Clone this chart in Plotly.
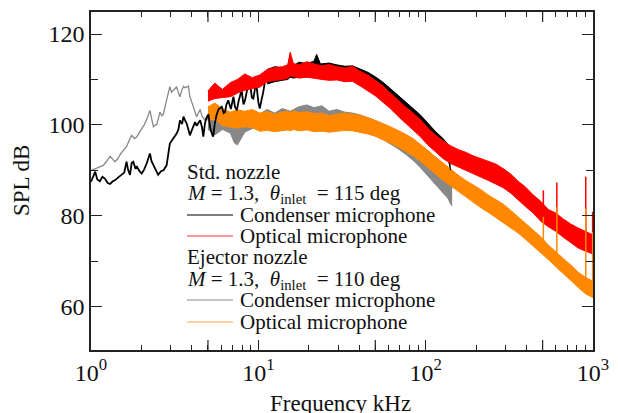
import plotly.graph_objects as go

# ---------------- data ----------------
# Thin low-frequency parts of the condenser-microphone spectra
black_line_f = [1.0, 1.03, 1.06, 1.09, 1.13, 1.17, 1.21, 1.26, 1.30, 1.35, 1.39, 1.45, 1.53, 1.58,
                1.63, 1.67, 1.71, 1.75, 1.79, 1.84, 1.88, 1.95, 2.01, 2.08, 2.15, 2.25, 2.30, 2.36,
                2.45, 2.52, 2.62, 2.71, 2.83, 2.90, 2.96, 3.10, 3.25, 3.33, 3.40, 3.50, 3.57, 3.65,
                3.73, 3.82, 3.90, 4.00, 4.09, 4.19, 4.28, 4.38, 4.49, 4.60, 4.69, 4.80, 4.90, 5.03,
                5.15, 5.27, 5.37, 5.50, 5.64, 5.80, 6.05, 6.20, 6.32, 6.45, 6.61, 6.85, 7.10, 7.25,
                7.44, 7.65, 7.95, 8.15, 8.33, 8.60, 8.93, 9.15, 9.34, 9.55, 9.77, 10.0, 10.2, 10.45,
                10.7, 11.0, 11.3]
black_line_v = [87.5, 88.5, 89.7, 88.0, 87.6, 88.6, 88.2, 87.2, 87.0, 87.6, 87.8, 88.4, 89.2, 89.5,
                91.9, 90.0, 89.0, 91.6, 91.9, 90.5, 90.8, 89.8, 89.3, 90.2, 91.5, 93.7, 92.0, 91.1,
                90.0, 89.0, 89.8, 90.0, 91.1, 93.5, 95.9, 97.0, 98.1, 99.0, 101.0, 100.2, 101.8, 101.0,
                100.3, 99.0, 97.7, 98.8, 99.6, 100.6, 99.8, 100.4, 101.0, 99.6, 97.4, 100.4, 101.5, 102.3,
                99.5, 98.1, 97.4, 100.5, 102.3, 103.5, 104.0, 102.6, 102.8, 104.5, 105.4, 103.5, 106.2, 104.0,
                103.2, 105.5, 107.6, 104.5, 105.4, 108.0, 109.1, 106.0, 105.8, 108.0, 108.4, 105.0, 103.6, 105.5,
                107.2, 110.0, 110.5]

gray_line_f = [1.0, 1.05, 1.10, 1.185, 1.24, 1.30, 1.35, 1.39, 1.45, 1.50, 1.56, 1.60, 1.63, 1.70,
               1.75, 1.82, 1.88, 1.95, 2.01, 2.08, 2.15, 2.20, 2.25, 2.30, 2.36, 2.41, 2.47, 2.53,
               2.58, 2.65, 2.71, 2.77, 2.83, 2.90, 2.96, 3.03, 3.10, 3.17, 3.25, 3.33, 3.40, 3.48,
               3.57, 3.65, 3.73, 3.82, 3.90, 4.00, 4.09, 4.19, 4.28, 4.38, 4.49, 4.60, 4.80, 4.95, 5.0]
gray_line_v = [90.0, 90.3, 90.6, 91.1, 92.0, 93.1, 92.4, 91.9, 92.6, 93.6, 94.4, 95.0, 95.2, 96.8,
               97.7, 97.0, 97.4, 98.4, 99.2, 100.0, 101.2, 102.1, 103.2, 101.5, 99.6, 99.9, 100.1, 101.5,
               102.8, 102.0, 102.4, 104.0, 105.5, 107.0, 108.4, 107.2, 107.6, 108.2, 108.4, 107.0, 106.2, 107.5,
               108.5, 108.2, 108.4, 108.5, 106.2, 105.0, 104.0, 103.0, 101.8, 102.6, 103.4, 102.0, 101.0, 102.0, 101.0]

# Noisy broadband parts: upper / lower envelope of the fluctuating spectrum
opt_f = [5.0, 5.5, 6.1, 6.8, 7.5, 8.3, 9.2, 10.2, 11.3, 12.5, 13.9, 15.0, 15.5, 16.2, 17.5, 19.5,
         21.5, 24, 26.5, 29.5, 33, 36.5, 40.5, 45, 50, 55.5, 61.5, 68, 75.5, 84, 93, 103, 114, 127,
         141, 156, 173, 192, 213, 236, 262, 290, 322, 357, 396, 439, 487, 540, 599, 664, 736, 816, 905, 1000]
red_hi = [107.5, 109.2, 107.8, 109.3, 110.0, 111.2, 110.4, 111.0, 112.2, 112.6, 112.8, 113.2, 116.0, 113.5,
          113.2, 113.9, 113.4, 113.0, 113.3, 112.8, 112.5, 112.9, 111.8, 111.0, 109.8, 108.6, 107.0, 105.5,
          104.0, 102.6, 101.2, 99.3, 97.8, 96.5, 95.4, 94.6, 94.0, 93.2, 92.6, 92.0, 91.4, 90.4, 89.2, 87.6,
          86.3, 84.6, 83.2, 81.4, 80.6, 79.3, 78.2, 77.3, 76.6, 75.8]
red_lo = [105.2, 105.8, 106.0, 106.2, 107.0, 107.6, 108.0, 108.3, 109.5, 109.8, 110.0, 110.2, 110.8, 110.6,
          110.3, 110.5, 110.2, 110.0, 109.8, 109.9, 109.5, 109.6, 108.6, 107.5, 106.4, 105.0, 103.6, 102.0,
          100.5, 99.0, 97.4, 95.6, 94.2, 92.6, 91.5, 90.8, 90.0, 89.2, 88.6, 87.8, 87.0, 86.2, 85.0, 83.4,
          82.0, 80.6, 78.8, 77.6, 76.6, 75.3, 74.0, 72.9, 72.2, 71.6]
orange_hi = [104.0, 104.8, 103.6, 102.8, 103.3, 103.0, 103.4, 102.6, 102.9, 102.4, 102.8, 103.0, 102.6, 103.1,
             102.7, 102.9, 102.5, 102.6, 102.0, 102.4, 102.6, 102.3, 102.1, 101.6, 101.0, 100.3, 99.6, 98.9,
             98.0, 97.0, 95.8, 94.4, 93.0, 91.6, 90.2, 89.0, 87.8, 86.8, 85.8, 84.6, 83.6, 82.6, 81.2, 79.8,
             78.4, 77.0, 75.4, 73.6, 72.0, 70.6, 69.2, 67.6, 66.4, 65.6]
orange_lo = [101.0, 101.3, 99.8, 99.6, 99.3, 99.6, 99.4, 98.6, 98.8, 98.5, 98.8, 98.9, 98.7, 99.0,
             98.7, 98.9, 98.5, 98.6, 98.4, 98.6, 98.8, 98.7, 98.4, 98.0, 97.5, 96.8, 96.0, 95.2,
             94.2, 93.2, 92.0, 90.6, 89.2, 87.8, 86.6, 85.4, 84.2, 83.0, 81.8, 80.8, 79.6, 78.6, 77.4, 76.2,
             74.8, 73.4, 72.0, 70.4, 68.8, 67.4, 65.8, 64.2, 62.8, 62.0]

gray_f = [5.0, 5.5, 6.1, 6.8, 7.2, 7.5, 8.3, 9.2, 10.2, 11.3, 12.5, 13.9, 15.5, 17.5, 19.5, 21.5, 24,
          26.5, 29.5, 33, 36.5, 40.5, 45, 50, 55.5, 61.5, 68, 75.5, 84, 93, 103, 114, 127, 136, 141, 144]
gray_hi = [102.4, 100.6, 102.6, 101.0, 99.0, 100.6, 101.6, 103.0, 102.4, 103.4, 102.6, 103.6, 103.0, 104.0,
           104.4, 103.8, 104.2, 103.0, 103.4, 102.8, 102.6, 102.2, 101.6, 101.0, 100.2, 99.4, 98.4, 97.2,
           95.8, 94.2, 92.6, 90.8, 89.0, 87.8, 87.0, 86.0]
gray_lo = [99.0, 97.8, 99.0, 98.2, 96.0, 95.6, 98.4, 99.2, 99.6, 99.8, 99.5, 100.0, 100.2, 100.4,
           100.6, 100.4, 100.3, 99.6, 99.8, 99.6, 99.3, 98.8, 98.2, 97.6, 96.8, 95.8, 94.8, 93.6,
           92.2, 90.6, 88.8, 87.0, 85.0, 83.8, 82.6, 82.2]

black_f = [11.3, 12.5, 13.9, 15.0, 15.5, 16.2, 17.5, 19.5, 21.5, 22.3, 23.5, 26.5, 29.5, 33, 36.5,
           40.5, 45, 50, 55.5, 61.5, 68, 75.5, 84, 93, 103, 114, 127, 136, 141]
black_hi = [112.2, 112.8, 112.6, 113.0, 115.4, 113.0, 113.8, 113.5, 114.0, 115.5, 113.4, 113.6, 113.2, 112.9,
            113.0, 112.3, 111.6, 110.6, 109.4, 108.0, 106.6, 105.2, 103.8, 102.2, 100.4, 98.6, 97.0, 95.8, 95.0]
black_lo = [109.0, 109.5, 109.8, 110.0, 110.5, 110.3, 110.5, 110.6, 110.4, 110.6, 110.2, 110.0, 110.0, 109.8,
            109.8, 109.0, 108.2, 107.2, 106.0, 104.6, 103.2, 101.8, 100.4, 98.8, 97.0, 95.4, 93.6, 92.6, 90.0]

# Narrow tonal spikes at high frequency (frequency, band level, spike top)
spike_f = [505, 608, 905, 995]
red_spike_base = [79.0, 78.0, 74.0, 74.0]
red_spike_top = [85.6, 87.3, 88.6, 80.9]
orange_spike_base = [72.0, 70.0, 64.0, 63.0]
orange_spike_top = [79.8, 82.0, 81.6, 76.5]

x_tickvals = [1, 10, 100, 1000]
x_ticktext = ["10<sup>0</sup>", "10<sup>1</sup>", "10<sup>2</sup>", "10<sup>3</sup>"]
x_half_decade = [5, 50, 500]
y_tickvals = [60, 80, 100, 120]

legend_rows = [
    ("Std. nozzle", None),
    ("<i>M</i> = 1.3,\u00a0\u00a0<i>θ</i><sub>inlet</sub>\u00a0\u00a0= 115 deg", None),
    ("Condenser microphone", "#000000"),
    ("Optical microphone", "#ff3030"),
    ("Ejector nozzle", None),
    ("<i>M</i> = 1.3,\u00a0\u00a0<i>θ</i><sub>inlet</sub>\u00a0\u00a0= 110 deg", None),
    ("Condenser microphone", "#888888"),
    ("Optical microphone", "#ffa040"),
]

# ---------------- styling ----------------
RED = "#ff0000"
BLACK = "#000000"
GRAY = "#888888"
ORANGE = "#ff8800"
FONT = "Liberation Serif"
AX = "#222222"

W, H = 618, 413
PL, PR, PT, PB = 91, 593, 12, 350


def px(x):
    return (x - PL) / (PR - PL)


def py(y):
    return (PB - y) / (PB - PT)


fig = go.Figure()


def band(f, lo, hi, color, name):
    fig.add_trace(go.Scatter(x=f, y=lo, mode="lines", line=dict(color=color, width=1),
                             showlegend=False, hoverinfo="skip", name=name + " lo"))
    fig.add_trace(go.Scatter(x=f, y=hi, mode="lines", line=dict(color=color, width=1),
                             fill="tonexty", fillcolor=color, showlegend=False, name=name))


def spikes(f, base, top, color, name):
    xs, ys = [], []
    for a, b, c in zip(f, base, top):
        xs += [a, a, None]
        ys += [b, c, None]
    fig.add_trace(go.Scatter(x=xs, y=ys, mode="lines", line=dict(color=color, width=1.5),
                             showlegend=False, name=name))


# Ejector nozzle, condenser microphone (gray)
fig.add_trace(go.Scatter(x=gray_line_f, y=gray_line_v, mode="lines",
                         line=dict(color=GRAY, width=1.3), showlegend=False, name="Ejector condenser"))
band(gray_f, gray_lo, gray_hi, GRAY, "Ejector condenser")
# Ejector nozzle, optical microphone (orange)
band(opt_f, orange_lo, orange_hi, ORANGE, "Ejector optical")
# Std nozzle, condenser microphone (black)
fig.add_trace(go.Scatter(x=black_line_f, y=black_line_v, mode="lines",
                         line=dict(color=BLACK, width=1.8), showlegend=False, name="Std condenser"))
band(black_f, black_lo, black_hi, BLACK, "Std condenser")
# Std nozzle, optical microphone (red)
band(opt_f, red_lo, red_hi, RED, "Std optical")
spikes(spike_f, red_spike_base, red_spike_top, RED, "Std optical spikes")
spikes(spike_f, orange_spike_base, orange_spike_top, ORANGE, "Ejector optical spikes")

# ---------------- legend block (text + sample lines) ----------------
row_y = [172, 194, 215, 236, 257, 280, 300, 322]
annotations = []
shapes = []
for (txt, col), yc in zip(legend_rows, row_y):
    if col is None:
        xt = 185
    else:
        xt = 238
        shapes.append(dict(type="line", xref="paper", yref="paper",
                           x0=px(187), x1=px(233), y0=py(yc), y1=py(yc),
                           line=dict(color=col, width=1)))
    annotations.append(dict(text=txt, xref="paper", yref="paper", x=px(xt), y=py(yc),
                            xanchor="left", yanchor="middle", showarrow=False,
                            font=dict(family=FONT, size=21, color="#111111")))

# longer ticks at 5, 50, 500 (bottom and top)
tick_h = 10 / (PB - PT)
for v in x_half_decade:
    shapes.append(dict(type="line", xref="x", yref="paper", x0=v, x1=v, y0=0, y1=tick_h,
                       line=dict(color=AX, width=1.2)))
    shapes.append(dict(type="line", xref="x", yref="paper", x0=v, x1=v, y0=1 - tick_h, y1=1,
                       line=dict(color=AX, width=1.2)))

# axis titles
annotations.append(dict(text="SPL dB", xref="paper", yref="paper", x=px(21), y=py(181),
                        xanchor="center", yanchor="middle", textangle=-90, showarrow=False,
                        font=dict(family=FONT, size=23, color="#111111")))
annotations.append(dict(text="Frequency kHz", xref="paper", yref="paper", x=px(340), y=py(403),
                        xanchor="center", yanchor="middle", showarrow=False,
                        font=dict(family=FONT, size=23, color="#111111")))

axis_common = dict(showline=True, linecolor=AX, linewidth=1.5, mirror="allticks",
                   ticks="inside", tickcolor=AX, tickwidth=1.2, showgrid=False,
                   zeroline=False, automargin=False, ticklabeloverflow="allow",
                   tickfont=dict(family=FONT, size=24, color="#111111"))

fig.update_layout(
    width=W, height=H,
    margin=dict(l=PL, r=W - PR, t=PT, b=H - PB, pad=0),
    paper_bgcolor="white", plot_bgcolor="white",
    showlegend=False,
    annotations=annotations, shapes=shapes,
    xaxis=dict(type="log", range=[0, 3], tickvals=x_tickvals, ticktext=x_ticktext, ticklen=10,
               minor=dict(ticks="inside", ticklen=5.5, dtick="D1", tickcolor=AX, tickwidth=1.2),
               **axis_common),
    yaxis=dict(range=[50.47, 124.84], tickvals=y_tickvals, ticklen=11,
               minor=dict(ticks="inside", ticklen=7, dtick=10, tickcolor=AX, tickwidth=1.2),
               **axis_common),
)

fig.write_html("out.html", config={"displayModeBar": False},
               post_script="document.body.style.margin='0px';document.body.style.overflow='hidden';")
